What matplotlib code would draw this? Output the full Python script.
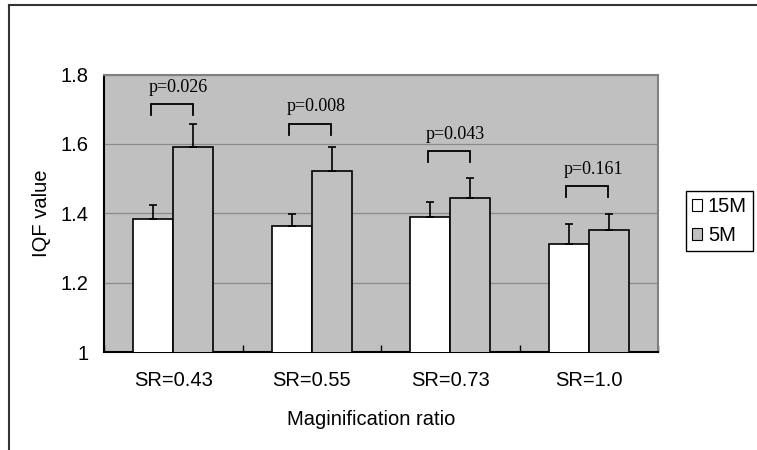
import matplotlib
matplotlib.use("Agg")
import matplotlib.pyplot as plt
from matplotlib.patches import Patch
from matplotlib.lines import Line2D
import numpy as np

# ---- data ----
categories = ["SR=0.43", "SR=0.55", "SR=0.73", "SR=1.0"]
series_names = ["15M", "5M"]
mean_15M = [1.383, 1.364, 1.389, 1.310]
mean_5M = [1.592, 1.523, 1.443, 1.351]
sd_15M = [0.042, 0.035, 0.043, 0.058]
sd_5M = [0.066, 0.069, 0.059, 0.047]
p_labels = ["p=0.026", "p=0.008", "p=0.043", "p=0.161"]
y_ticks = [1.0, 1.2, 1.4, 1.6, 1.8]
y_tick_labels = ["1", "1.2", "1.4", "1.6", "1.8"]

# annotation layout (bracket heights)
bracket_top = [1.714, 1.658, 1.579, 1.478]

W, H = 757, 450
fig = plt.figure(figsize=(W / 100, H / 100), dpi=100)
fig.patch.set_facecolor("white")

sans = ["Liberation Sans", "DejaVu Sans"]
serif = ["Liberation Serif", "DejaVu Serif"]
FS = 14.5

ax = fig.add_axes([104 / W, (H - 352) / H, (658 - 104) / W, (352 - 74.5) / H])
ax.set_facecolor("#C0C0C0")

x = np.arange(len(categories))
bw = 0.288
ax.bar(x - bw / 2, mean_15M, width=bw, color="white", edgecolor="black",
       linewidth=1.2, zorder=3)
ax.bar(x + bw / 2, mean_5M, width=bw, color="#C0C0C0", edgecolor="black",
       linewidth=1.2, zorder=3)
zeros = [0] * len(categories)
ax.errorbar(x - bw / 2, mean_15M, yerr=[zeros, sd_15M], fmt="none",
            ecolor="black", elinewidth=1.2, capsize=3, capthick=1.2, zorder=4)
ax.errorbar(x + bw / 2, mean_5M, yerr=[zeros, sd_5M], fmt="none",
            ecolor="black", elinewidth=1.2, capsize=3, capthick=1.2, zorder=4)

# brackets and p-values
leg = 0.032
for i, (yt, lab) in enumerate(zip(bracket_top, p_labels)):
    xl, xr = i - bw / 2 - 0.02, i + bw / 2 - 0.005
    ax.plot([xl, xl, xr, xr], [yt - leg, yt, yt, yt - leg], color="black",
            lw=1.3, zorder=5, solid_joinstyle="miter")
    ax.text(i + 0.035, yt + 0.049, lab, ha="center", va="center",
            fontsize=13, family=serif, zorder=5)

ax.set_xlim(-0.5, len(categories) - 0.5)
ax.set_ylim(1.0, 1.8)
ax.set_yticks(y_ticks)
ax.set_yticklabels(y_tick_labels, fontsize=FS, family=sans)
ax.yaxis.grid(True, color="#8a8a8a", linewidth=0.9, zorder=0)
ax.set_axisbelow(True)

ax.set_xticks(x)
ax.set_xticklabels(categories, fontsize=FS, family=sans)
ax.set_xticks(np.arange(len(categories) + 1) - 0.5, minor=True)
ax.tick_params(axis="x", which="major", length=0, pad=14)
ax.tick_params(axis="x", which="minor", direction="in", length=5, width=1)
ax.tick_params(axis="y", length=0, pad=11)

for s in ["left", "bottom"]:
    ax.spines[s].set_color("black")
    ax.spines[s].set_linewidth(1.5)
for s in ["top", "right"]:
    ax.spines[s].set_color("#808080")
    ax.spines[s].set_linewidth(1.5)

ax.set_ylabel("IQF value", fontsize=FS, family=sans)
ax.yaxis.set_label_coords(-0.096, 0.5)
ax.set_xlabel("Maginification ratio", fontsize=FS, family=sans)
ax.xaxis.set_label_coords(0.483, -0.21)

handles = [Patch(facecolor="white", edgecolor="black", linewidth=0.8),
           Patch(facecolor="#C0C0C0", edgecolor="black", linewidth=0.8)]
lg = fig.legend(handles, series_names, loc="upper left",
                bbox_to_anchor=(685.7 / W, 1 - 191 / H), borderaxespad=0,
                fancybox=False, edgecolor="black", framealpha=1,
                prop={"family": sans, "size": FS},
                handlelength=0.5, handleheight=0.5, handletextpad=0.3,
                labelspacing=0.5, borderpad=0.3)
lg.get_frame().set_linewidth(1.0)

# figure border (outer frame)
fig.add_artist(Line2D([9 / W, 1.0], [1 - 5 / H, 1 - 5 / H], color="#333333",
                      lw=1.5, transform=fig.transFigure))
fig.add_artist(Line2D([9 / W, 9 / W], [0.0, 1 - 5 / H], color="#333333",
                      lw=1.5, transform=fig.transFigure))

fig.savefig("out.png", dpi=100, facecolor="white")
